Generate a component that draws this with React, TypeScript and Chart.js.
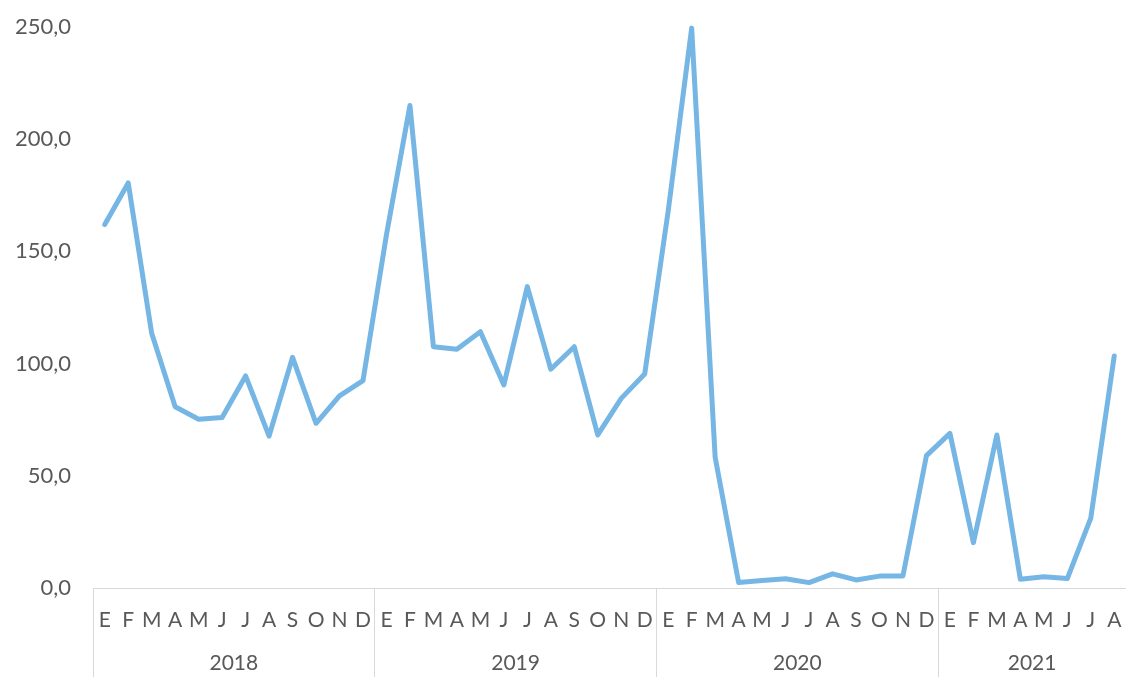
import React, { useEffect, useRef } from "react";
import { Chart, registerables } from "chart.js";

Chart.register(...registerables);

const MONTHS = ["E", "F", "M", "A", "M", "J", "J", "A", "S", "O", "N", "D"];
const YEARS = ["2018", "2019", "2020", "2021"];
const MONTHS_PER_YEAR = [12, 12, 12, 8];

const values2018 = [162.0, 180.5, 113.5, 80.8, 75.2, 76.0, 94.5, 67.7, 102.8, 73.4, 85.6, 92.4];
const values2019 = [157.5, 215.0, 107.5, 106.4, 114.2, 90.5, 134.3, 97.5, 107.5, 68.2, 84.5, 95.4];
const values2020 = [168.0, 249.5, 58.3, 2.4, 3.3, 4.1, 2.4, 6.3, 3.6, 5.3, 5.4, 59.0];
const values2021 = [68.9, 20.2, 68.2, 3.9, 5.0, 4.2, 31.1, 103.4];

const Y_TICKS = [0, 50, 100, 150, 200, 250];

const TEXT_COLOR = "#595959";
const LINE_COLOR = "#76B6E4";
const AXIS_COLOR = "#D9D9D9";
const FONT = "Lato, 'DejaVu Sans', sans-serif";

export default function App() {
  const canvasRef = useRef<HTMLCanvasElement | null>(null);

  useEffect(() => {
    if (!canvasRef.current) return;

    const labels: string[] = [];
    MONTHS_PER_YEAR.forEach((n) => {
      for (let i = 0; i < n; i++) labels.push(MONTHS[i]);
    });
    const data = [...values2018, ...values2019, ...values2020, ...values2021];

    // year boundaries and centres in category-index space
    const boundaries: number[] = [];
    const centres: number[] = [];
    let acc = 0;
    MONTHS_PER_YEAR.forEach((n) => {
      boundaries.push(acc);
      centres.push(acc + n / 2 - 0.5);
      acc += n;
    });

    const chart = new Chart(canvasRef.current, {
      type: "line",
      data: {
        labels,
        datasets: [
          {
            data,
            borderColor: LINE_COLOR,
            borderWidth: 5,
            pointRadius: 0,
            pointHoverRadius: 0,
            tension: 0,
            fill: false,
            borderJoinStyle: "round",
            borderCapStyle: "round",
            clip: 6,
          },
        ],
      },
      options: {
        animation: false,
        responsive: false,
        events: [],
        layout: { padding: { top: 27, left: 0, right: 0, bottom: 0 } },
        plugins: {
          legend: { display: false },
          tooltip: { enabled: false },
        },
        scales: {
          y: {
            min: 0,
            max: 250,
            afterBuildTicks: (scale: any) => {
              scale.ticks = Y_TICKS.map((v) => ({ value: v }));
            },
            afterFit: (scale: any) => {
              scale.width = 93;
              scale.paddingTop = 0;
              scale.paddingBottom = 0;
            },
            grid: { display: false, drawTicks: false },
            border: { display: false },
            ticks: {
              padding: 22,
              color: TEXT_COLOR,
              font: { family: FONT, size: 22 },
              callback: (v: any) => Number(v).toFixed(1).replace(".", ","),
            },
          },
          x: {
            type: "category",
            position: "bottom",
            offset: true,
            weight: 0,
            afterFit: (scale: any) => {
              scale.height = 45;
            },
            grid: {
              display: true,
              drawOnChartArea: false,
              drawTicks: true,
              tickLength: 89,
              offset: true,
              lineWidth: 1,
              color: (ctx: any) =>
                boundaries.includes(ctx.index) ? AXIS_COLOR : "rgba(0,0,0,0)",
            },
            border: { display: true, color: AXIS_COLOR, width: 1 },
            ticks: {
              autoSkip: false,
              maxRotation: 0,
              minRotation: 0,
              padding: -69.5,
              color: TEXT_COLOR,
              font: { family: FONT, size: 21 },
            },
          },
          x2: {
            type: "linear",
            axis: "x",
            position: "bottom",
            weight: 1,
            min: -0.5,
            max: labels.length - 0.5,
            afterBuildTicks: (scale: any) => {
              scale.ticks = centres.map((v) => ({ value: v }));
            },
            afterFit: (scale: any) => {
              scale.height = 44;
            },
            grid: { display: false, drawTicks: false },
            border: { display: false },
            ticks: {
              autoSkip: false,
              maxRotation: 0,
              minRotation: 0,
              padding: 18,
              color: TEXT_COLOR,
              font: { family: FONT, size: 21 },
              callback: (_v: any, i: number) => YEARS[i],
            },
          },
        },
      } as any,
    });

    return () => chart.destroy();
  }, []);

  return (
    <div style={{ position: "fixed", left: 0, top: 0, width: 1126, height: 677, background: "#fff" }}>
      <canvas ref={canvasRef} width={1126} height={677} />
    </div>
  );
}
